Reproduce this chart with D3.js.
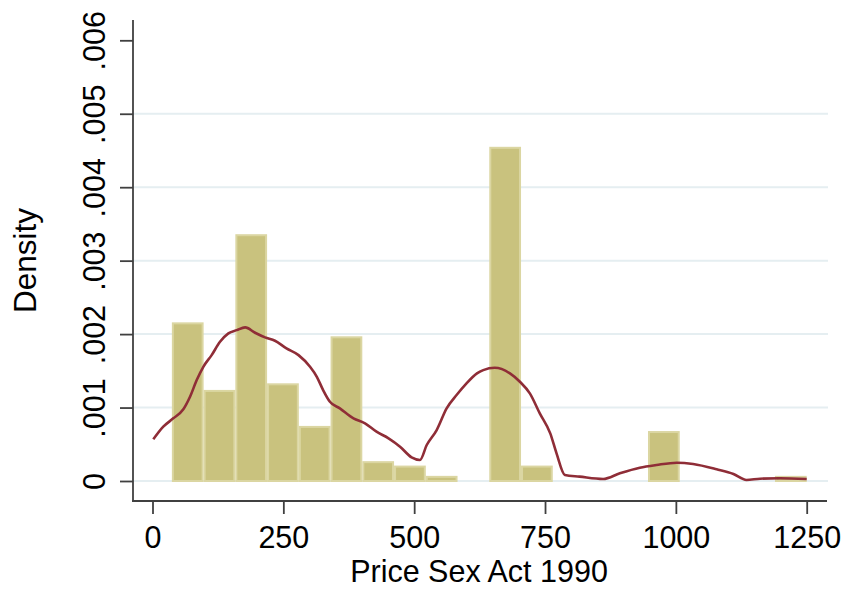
<!DOCTYPE html>
<html>
<head>
<meta charset="utf-8">
<script src="https://cdn.jsdelivr.net/npm/d3@7"></script>
<style>
  html, body { margin: 0; padding: 0; background: #ffffff; }
  svg { display: block; }
  text { font-family: "Liberation Sans", Arial, sans-serif; fill: #000; }
</style>
</head>
<body>
<svg id="chart" width="847" height="590"></svg>
<script>
// ---- Data ----
const binStart = 37;
const binWidth = 60.65;
const binDensity = [
  0.00216, 0.00124, 0.00336, 0.00133, 0.00075, 0.00197, 0.00027, 0.00021, 0.00007, 0,
  0.00455, 0.00021, 0, 0, 0, 0.00068, 0, 0, 0, 0.00007
];
const kdeX = [
  1.5, 20.6, 39.7, 58.9, 71.7, 84.5, 97.1, 113, 129, 145, 161, 177, 196, 215, 234, 256,
  279, 301, 314, 326, 339, 358, 384, 406, 428, 451, 473, 495, 511, 524, 543, 562, 581,
  600, 620, 632, 654, 683, 702, 721, 740, 760, 772, 788, 816, 861, 893, 931, 963, 1002,
  1033, 1078, 1110, 1135, 1161, 1199, 1250
];
const kdeY = [
  0.000567, 0.000739, 0.000853, 0.000976, 0.001147, 0.001374, 0.001555, 0.001714, 0.001895,
  0.002010, 0.002054, 0.002091, 0.002018, 0.001955, 0.001909, 0.001805, 0.001714, 0.001555,
  0.001419, 0.001238, 0.001079, 0.000989, 0.000853, 0.000785, 0.000671, 0.000581, 0.000467,
  0.000322, 0.000286, 0.000490, 0.000694, 0.000989, 0.001170, 0.001329, 0.001465, 0.001510,
  0.001541, 0.001465, 0.001351, 0.001193, 0.000921, 0.000649, 0.000377, 0.000082, 0.000059,
  0.000027, 0.000105, 0.000181, 0.000218, 0.000249, 0.000231, 0.000159, 0.000095, 0.000014,
  0.000031, 0.000037, 0.000027
];
const xTicks = [0, 250, 500, 750, 1000, 1250];
const yTicks = [0, 0.001, 0.002, 0.003, 0.004, 0.005, 0.006];
const yTickLabels = ["0", ".001", ".002", ".003", ".004", ".005", ".006"];
const gridTicks = [0, 0.001, 0.002, 0.003, 0.004, 0.005];
const xTitle = "Price Sex Act 1990";
const yTitle = "Density";

// ---- Layout ----
const plotLeft = 133, plotRight = 827, plotTop = 20, plotBottom = 501;
const fontSize = "30.5px";
const svg = d3.select("#chart");
svg.append("rect").attr("width", 847).attr("height", 590).attr("fill", "#ffffff");

const x = d3.scaleLinear().domain([0, 1250]).range([152.5, 806.7]);
const y = d3.scaleLinear().domain([0, 0.006]).range([481, 40.3]);

// gridlines
svg.append("g").selectAll("line").data(gridTicks).join("line")
  .attr("x1", plotLeft).attr("x2", plotRight + 1)
  .attr("y1", d => y(d)).attr("y2", d => y(d))
  .attr("stroke", "#e5eef1").attr("stroke-width", 2);

// bars
const bins = binDensity.map((d, i) => ({ x0: binStart + i * binWidth, x1: binStart + (i + 1) * binWidth, d }))
  .filter(b => b.d > 0);
svg.append("g").selectAll("rect").data(bins).join("rect")
  .attr("x", b => x(b.x0) + 1)
  .attr("width", b => x(b.x1) - x(b.x0) - 2)
  .attr("y", b => y(b.d) + 1)
  .attr("height", b => Math.max(0.5, y(0) - y(b.d) - 1))
  .attr("fill", "#c9c27e")
  .attr("stroke", "#dbd6a2")
  .attr("stroke-width", 2);

// kernel density line
const pts = kdeX.map((v, i) => [v, kdeY[i]]);
svg.append("path")
  .attr("d", d3.line().x(p => x(p[0])).y(p => y(p[1])).curve(d3.curveMonotoneX)(pts))
  .attr("fill", "none")
  .attr("stroke", "#8f2d37")
  .attr("stroke-width", 2.6)
  .attr("stroke-linejoin", "round");

// axes
const axisColor = "#404040";
const yAxis = svg.append("g").attr("transform", `translate(${plotLeft},0)`)
  .call(d3.axisLeft(y).tickValues(yTicks).tickSize(13).tickFormat((d, i) => yTickLabels[i]));
yAxis.select(".domain").remove();
yAxis.selectAll(".tick line").attr("stroke", axisColor).attr("stroke-width", 1.8);
yAxis.selectAll(".tick text")
  .attr("transform", "rotate(-90)")
  .attr("x", 0).attr("y", -28).attr("dy", 0)
  .attr("text-anchor", "middle")
  .style("font-size", fontSize)
  .style("font-family", '"Liberation Sans", Arial, sans-serif')
  .attr("fill", "#000");

const xAxis = svg.append("g").attr("transform", `translate(0,${plotBottom})`)
  .call(d3.axisBottom(x).tickValues(xTicks).tickSize(13).tickFormat(d3.format("d")));
xAxis.select(".domain").remove();
xAxis.selectAll(".tick line").attr("stroke", axisColor).attr("stroke-width", 1.8);
xAxis.selectAll(".tick text")
  .attr("y", 47).attr("dy", 0)
  .style("font-size", fontSize)
  .style("font-family", '"Liberation Sans", Arial, sans-serif')
  .attr("fill", "#000");

// spines
svg.append("line").attr("x1", plotLeft).attr("x2", plotLeft).attr("y1", plotTop).attr("y2", plotBottom + 0.9)
  .attr("stroke", axisColor).attr("stroke-width", 1.8);
svg.append("line").attr("x1", plotLeft - 0.9).attr("x2", plotRight).attr("y1", plotBottom).attr("y2", plotBottom)
  .attr("stroke", axisColor).attr("stroke-width", 1.8);

// titles
svg.append("text").attr("x", 479).attr("y", 581.5).attr("text-anchor", "middle")
  .style("font-size", fontSize).text(xTitle);
svg.append("text").attr("transform", `translate(36,${(plotTop + plotBottom) / 2}) rotate(-90)`)
  .attr("text-anchor", "middle").style("font-size", "31.5px").text(yTitle);
</script>
</body>
</html>
